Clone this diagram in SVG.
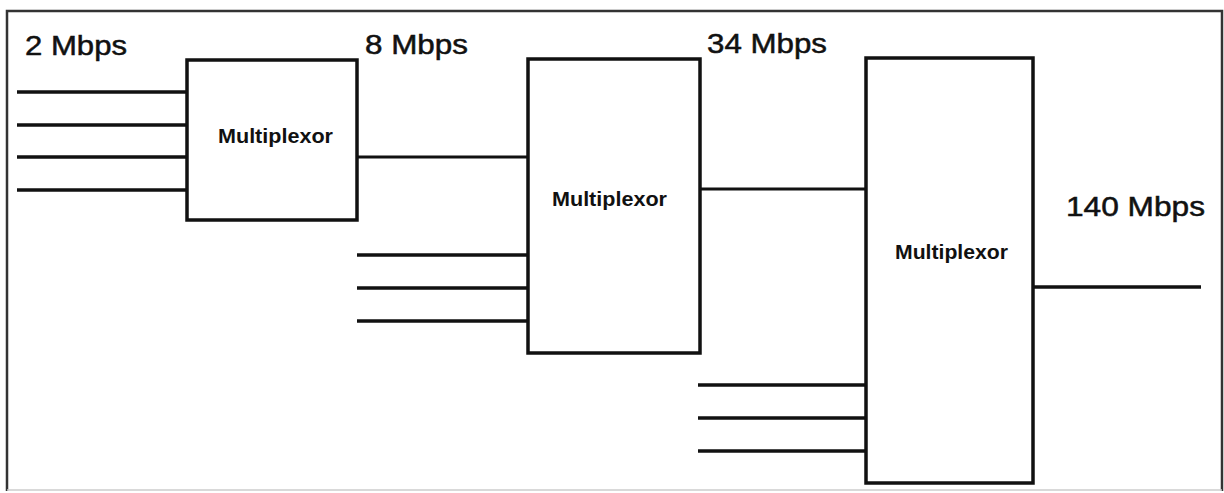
<svg xmlns="http://www.w3.org/2000/svg" width="1224" height="493" viewBox="0 0 1224 493">
<style>
.frame{stroke:#333;stroke-width:2.5;fill:none}
.box{fill:#fff;stroke:#111;stroke-width:3.5}
.in{stroke:#111;stroke-width:3.5;fill:none}
.link{stroke:#111;stroke-width:3;fill:none}
.rate{font-family:"Liberation Sans",Arial,sans-serif;font-size:27px;fill:#111;stroke:#111;stroke-width:0.5}
.mux{font-family:"Liberation Sans",Arial,sans-serif;font-size:20px;font-weight:bold;fill:#111}
</style>
<rect width="1224" height="493" fill="#fff"/>
<g id="frame">
<polyline class="frame" points="7,491 7,11 1222,11 1222,491"/>
<line x1="7" y1="490" x2="1222" y2="490" stroke="#ccc" stroke-width="1.5"/>
</g>
<g id="connectors">
<line class="in" x1="17" y1="92" x2="187" y2="92"/>
<line class="in" x1="17" y1="125" x2="187" y2="125"/>
<line class="in" x1="17" y1="157" x2="187" y2="157"/>
<line class="in" x1="17" y1="190" x2="187" y2="190"/>
<line class="link" x1="357" y1="157" x2="528" y2="157"/>
<line class="in" x1="357" y1="255" x2="528" y2="255"/>
<line class="in" x1="357" y1="288" x2="528" y2="288"/>
<line class="in" x1="357" y1="321" x2="528" y2="321"/>
<line class="link" x1="700" y1="189" x2="866" y2="189"/>
<line class="in" x1="698" y1="385" x2="866" y2="385"/>
<line class="in" x1="698" y1="418" x2="866" y2="418"/>
<line class="in" x1="698" y1="451" x2="866" y2="451"/>
<line class="in" x1="1033" y1="287" x2="1201" y2="287"/>
</g>
<g id="mux1">
<rect class="box" x="187" y="60" width="170" height="160"/>
<text class="mux" x="218" y="143" textLength="115" lengthAdjust="spacingAndGlyphs">Multiplexor</text>
</g>
<g id="mux2">
<rect class="box" x="528" y="59" width="172" height="294"/>
<text class="mux" x="552" y="206" textLength="115" lengthAdjust="spacingAndGlyphs">Multiplexor</text>
</g>
<g id="mux3">
<rect class="box" x="866" y="58" width="167" height="425"/>
<text class="mux" x="895" y="259" textLength="113" lengthAdjust="spacingAndGlyphs">Multiplexor</text>
</g>
<g id="labels">
<text class="rate" x="25" y="55" textLength="102" lengthAdjust="spacingAndGlyphs">2 Mbps</text>
<text class="rate" x="365" y="54" textLength="103" lengthAdjust="spacingAndGlyphs">8 Mbps</text>
<text class="rate" x="707" y="53" textLength="120" lengthAdjust="spacingAndGlyphs">34 Mbps</text>
<text class="rate" x="1066" y="216" textLength="139" lengthAdjust="spacingAndGlyphs">140 Mbps</text>
</g>
</svg>
